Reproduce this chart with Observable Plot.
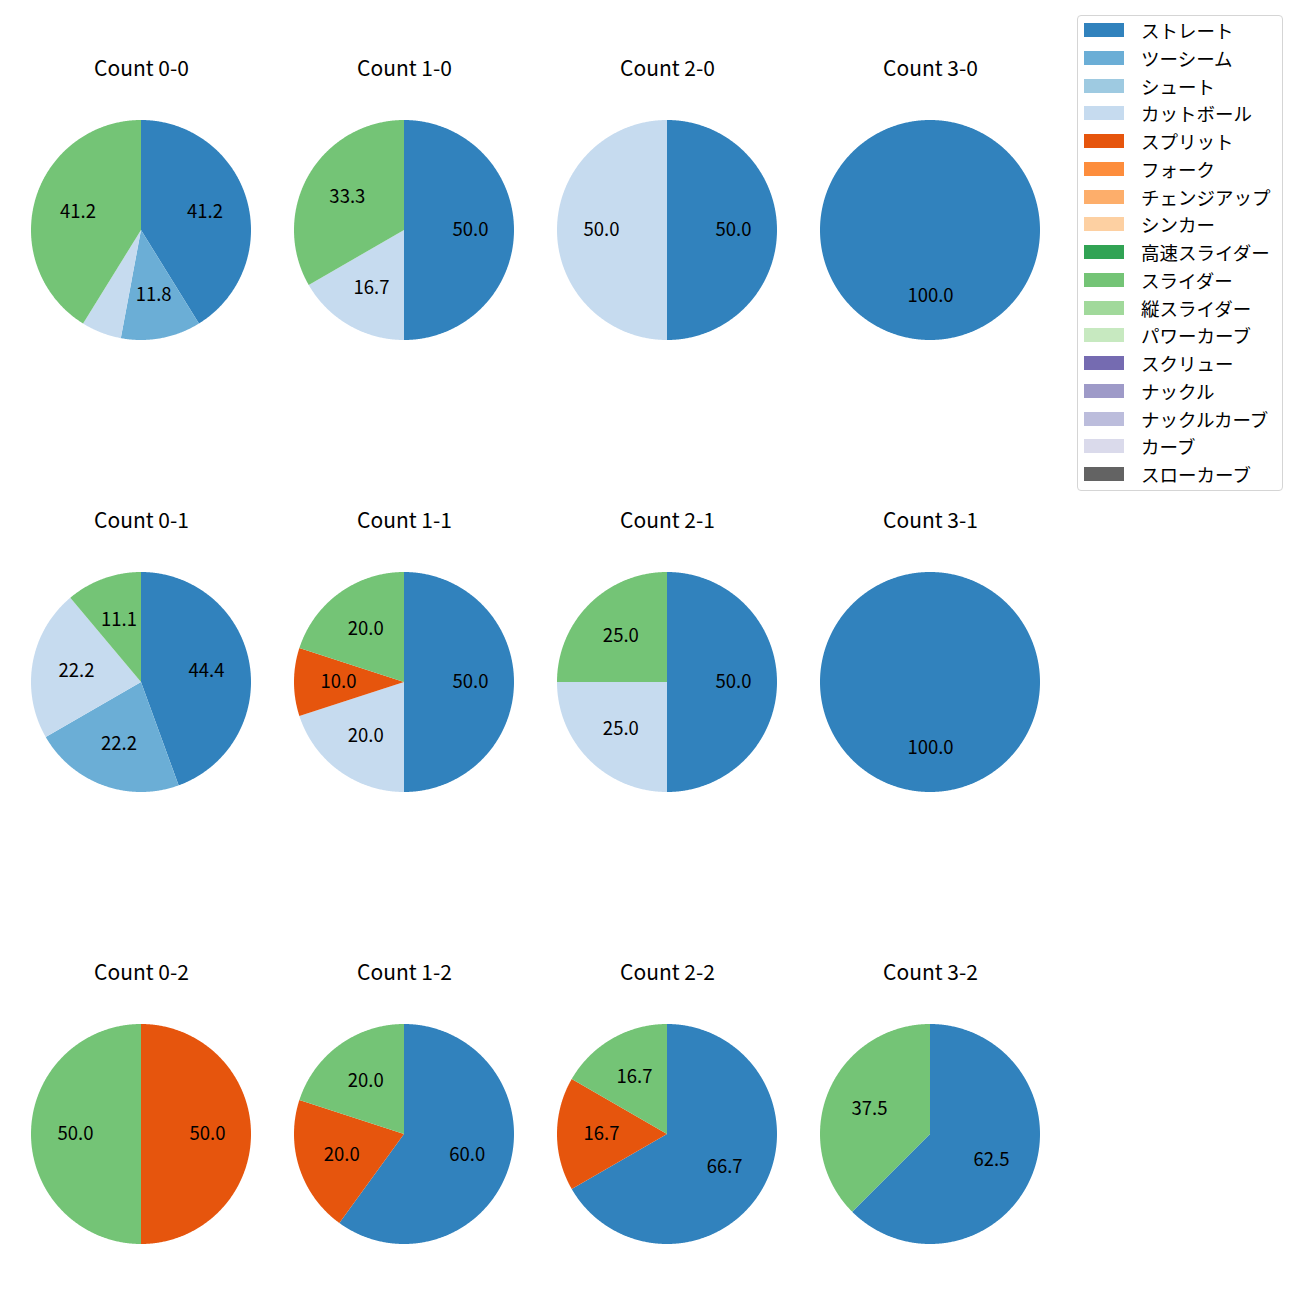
<!DOCTYPE html>
<html>
<head>
<meta charset="utf-8">
<script src="https://cdn.jsdelivr.net/npm/d3@7"></script>
<script src="https://cdn.jsdelivr.net/npm/@observablehq/plot@0.6"></script>
<style>
  body { margin: 0; background: #fff; font-family: "Noto Sans CJK JP", "Noto Sans", sans-serif; }
  #wrap { position: relative; width: 1300px; height: 1300px; }
  #legend { position: absolute; left: 1077px; top: 15px; width: 204px; height: 474px;
    border: 1px solid #d5d5d5; border-radius: 4px; background: #fff; box-sizing: content-box; }
  .item { position: absolute; left: 0; height: 20px; }
  .sw { position: absolute; left: 6px; width: 40px; height: 14px; }
  .lb { position: absolute; left: 63px; font-size: 18.5px; white-space: nowrap; color: #000; line-height: 20px; }
</style>
</head>
<body>
<div id="wrap"><div id="chart"></div><div id="legend"></div></div>
<script>
// Categories
const counts = ["0-0","1-0","2-0","3-0","0-1","1-1","2-1","3-1","0-2","1-2","2-2","3-2"];
const pitchTypes = ["ストレート","ツーシーム","シュート","カットボール","スプリット","フォーク","チェンジアップ","シンカー","高速スライダー","スライダー","縦スライダー","パワーカーブ","スクリュー","ナックル","ナックルカーブ","カーブ","スローカーブ"];
const pitchColors = ["#3182bd","#6baed6","#9ecae1","#c6dbef","#e6550d","#fd8d3c","#fdae6b","#fdd0a2","#31a354","#74c476","#a1d99b","#c7e9c0","#756bb1","#9e9ac8","#bcbddc","#dadaeb","#636363"];

// Series values: number of pitches per count (in order of counts), read from the percentages
const straight = [7, 3, 1, 1, 4, 5, 2, 1, 0, 3, 4, 5];
const twoSeam  = [2, 0, 0, 0, 2, 0, 0, 0, 0, 0, 0, 0];
const cutter   = [1, 1, 1, 0, 2, 2, 1, 0, 0, 0, 0, 0];
const split    = [0, 0, 0, 0, 0, 1, 0, 0, 1, 1, 1, 0];
const slider   = [7, 2, 0, 0, 1, 2, 1, 0, 1, 1, 1, 3];

const series = [
  {name: "ストレート", values: straight},
  {name: "ツーシーム", values: twoSeam},
  {name: "カットボール", values: cutter},
  {name: "スプリット", values: split},
  {name: "スライダー", values: slider}
];
series.sort((a, b) => pitchTypes.indexOf(a.name) - pitchTypes.indexOf(b.name));

const wedgePts = [];
const labels = [];
counts.forEach((c, i) => {
  const col = i % 4, row = Math.floor(i / 4);
  const total = d3.sum(series, s => s.values[i]);
  let acc = 0;
  series.forEach(s => {
    const v = s.values[i];
    if (!v) return;
    const a0 = acc / total * 2 * Math.PI;
    const a1 = (acc + v) / total * 2 * Math.PI;
    acc += v;
    const n = Math.max(2, Math.ceil((a1 - a0) / (Math.PI / 360)));
    for (let j = 0; j <= n; j++) {
      const a = a0 + (a1 - a0) * j / n;
      wedgePts.push({col, row, key: c + "|" + s.name, pitch: s.name, cx: 0, cy: 0, x: Math.sin(a), y: Math.cos(a)});
    }
    const pct = v / total * 100;
    if (pct > 7) {
      const m = (a0 + a1) / 2;
      labels.push({col, row, x: 0.6 * Math.sin(m), y: 0.6 * Math.cos(m), text: pct.toFixed(1)});
    }
  });
});
const titles = counts.map((c, i) => ({col: i % 4, row: Math.floor(i / 4), text: "Count " + c}));

const R = 110; // pixels per unit radius
const chart = Plot.plot({
  width: 1300,
  height: 1300,
  marginLeft: 21,
  marginRight: 250,
  marginTop: 50,
  marginBottom: 46,
  style: {fontFamily: "'Noto Sans CJK JP', 'Noto Sans', sans-serif", background: "#fff"},
  fx: {domain: [0,1,2,3], axis: null, paddingInner: 23/263, paddingOuter: 0},
  fy: {domain: [0,1,2], axis: null, paddingInner: 152/452, paddingOuter: 0},
  x: {domain: [-120 / R, 120 / R], axis: null},
  y: {domain: [-120 / R, 180 / R], axis: null},
  color: {domain: pitchTypes, range: pitchColors, type: "ordinal"},
  marks: [
    Plot.area(wedgePts, {x1: "cx", y1: "cy", x2: "x", y2: "y", z: "key", fill: "pitch", fx: "col", fy: "row", curve: "linear"}),
    Plot.text(labels, {x: "x", y: "y", text: "text", fx: "col", fy: "row", fontSize: 18.5, fill: "#000"}),
    Plot.text(titles, {text: "text", fx: "col", fy: "row", frameAnchor: "top", lineAnchor: "middle", dy: 19, fontSize: 21, fill: "#000"})
  ]
});
document.getElementById("chart").appendChild(chart);

const legend = d3.select("#legend");
pitchTypes.forEach((p, i) => {
  const cy = 14 + 27.75 * i;
  const it = legend.append("div").attr("class", "item").style("top", (cy - 10) + "px");
  it.append("div").attr("class", "sw").style("top", "3px").style("background", pitchColors[i]);
  it.append("div").attr("class", "lb").style("top", "0px").text(p);
});
</script>
</body>
</html>
